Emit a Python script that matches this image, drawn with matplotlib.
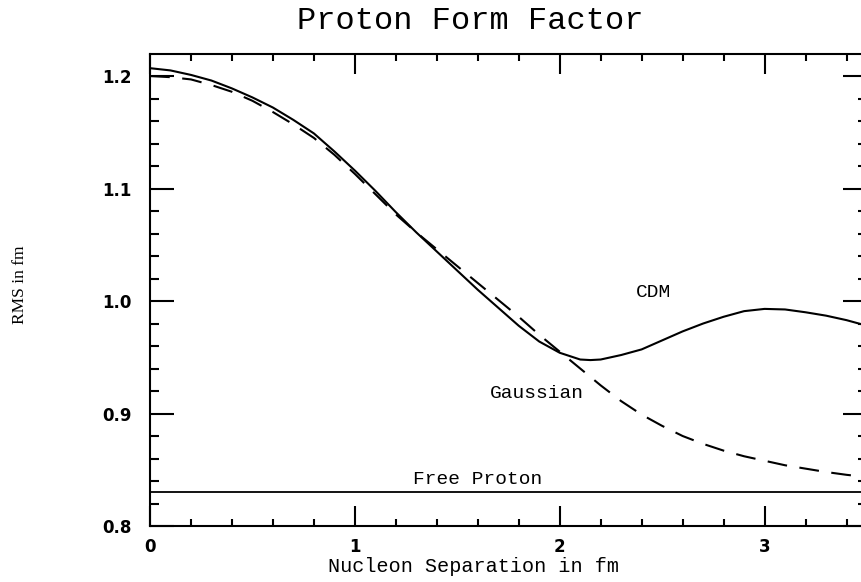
import matplotlib.pyplot as plt
from matplotlib.ticker import MultipleLocator

# datos
x_cdm = [0.0, 0.1, 0.2, 0.3, 0.4, 0.5, 0.6, 0.7, 0.8, 0.9, 1.0, 1.1, 1.2, 1.3,
         1.4, 1.5, 1.6, 1.7, 1.8, 1.9, 2.0, 2.05, 2.1, 2.15, 2.2, 2.3, 2.4, 2.5,
         2.6, 2.7, 2.8, 2.9, 3.0, 3.1, 3.2, 3.3, 3.4, 3.5]
rms_cdm = [1.207, 1.205, 1.201, 1.196, 1.189, 1.181, 1.172, 1.161, 1.149, 1.133,
           1.116, 1.098, 1.079, 1.061, 1.044, 1.027, 1.010, 0.994, 0.978, 0.964,
           0.954, 0.951, 0.948, 0.9475, 0.948, 0.952, 0.957, 0.965, 0.973, 0.980,
           0.986, 0.991, 0.993, 0.9925, 0.990, 0.987, 0.983, 0.978]

x_gauss = [0.0, 0.1, 0.2, 0.3, 0.4, 0.5, 0.6, 0.7, 0.8, 0.9, 1.0, 1.1, 1.2, 1.3,
           1.4, 1.5, 1.6, 1.7, 1.8, 1.9, 2.0, 2.1, 2.2, 2.3, 2.4, 2.5, 2.6, 2.7,
           2.8, 2.9, 3.0, 3.1, 3.2, 3.3, 3.4, 3.5]
rms_gauss = [1.200, 1.199, 1.197, 1.192, 1.186, 1.178, 1.168, 1.157, 1.145, 1.130,
             1.113, 1.095, 1.077, 1.061, 1.046, 1.031, 1.016, 1.001, 0.986, 0.970,
             0.955, 0.940, 0.925, 0.911, 0.899, 0.889, 0.880, 0.873, 0.867, 0.862,
             0.858, 0.854, 0.851, 0.848, 0.8455, 0.8435]

free_proton = 0.83

xticks = [0, 1, 2, 3]
yticks = [0.8, 0.9, 1.0, 1.1, 1.2]

serif = 'Liberation Mono'

fig = plt.figure(figsize=(8.61, 5.82), dpi=100)
# el eje se sale un poco por la derecha, como en el original
ax = fig.add_axes([150/861, 56/582, 717/861, 472/582])

ax.plot(x_cdm, rms_cdm, color='black', lw=1.5)
ax.plot(x_gauss, rms_gauss, color='black', lw=1.5, dashes=(9.5, 6))
ax.axhline(free_proton, color='black', lw=1.3)

ax.text(2.456, 1.008, 'CDM', family=serif, fontsize=14, ha='center', va='center')
ax.text(1.89, 0.918, 'Gaussian', family=serif, fontsize=14, ha='center', va='center')
ax.text(1.60, 0.841, 'Free Proton', family=serif, fontsize=14, ha='center', va='center')

ax.set_xlim(0, 3.5)
ax.set_ylim(0.8, 1.2196)

ax.set_xticks(xticks)
ax.set_yticks(yticks)
ax.set_xticklabels([str(t) for t in xticks])
ax.set_yticklabels(['%.1f' % t for t in yticks])
ax.xaxis.set_minor_locator(MultipleLocator(0.2))
ax.yaxis.set_minor_locator(MultipleLocator(0.02))

for s in ax.spines.values():
    s.set_linewidth(1.5)

ax.tick_params(which='both', direction='in', top=True, right=True, width=1.5)
ax.tick_params(axis='x', which='major', length=14.5, pad=9)
ax.tick_params(axis='x', which='minor', length=5)
ax.tick_params(axis='y', which='major', length=17.5, pad=13)
ax.tick_params(axis='y', which='minor', length=6.5)
for lab in ax.get_xticklabels() + ax.get_yticklabels():
    lab.set_family('DejaVu Sans')
    lab.set_fontweight('bold')
    lab.set_fontsize(12)

ax.set_xlabel('Nucleon Separation in fm', family=serif, fontsize=14.5, va='center')
ax.xaxis.set_label_coords((473 - 150) / 717, -(566 - 526) / 472)
ax.set_ylabel('RMS in fm', family='Liberation Serif', fontsize=12.5, va='center')
ax.yaxis.set_label_coords(-(150 - 20) / 717, (526 - 285) / 472)

fig.text(470/861, 1 - 21/582, 'Proton Form Factor', family=serif, fontsize=23,
         ha='center', va='center')

plt.savefig('out.png', dpi=100)
